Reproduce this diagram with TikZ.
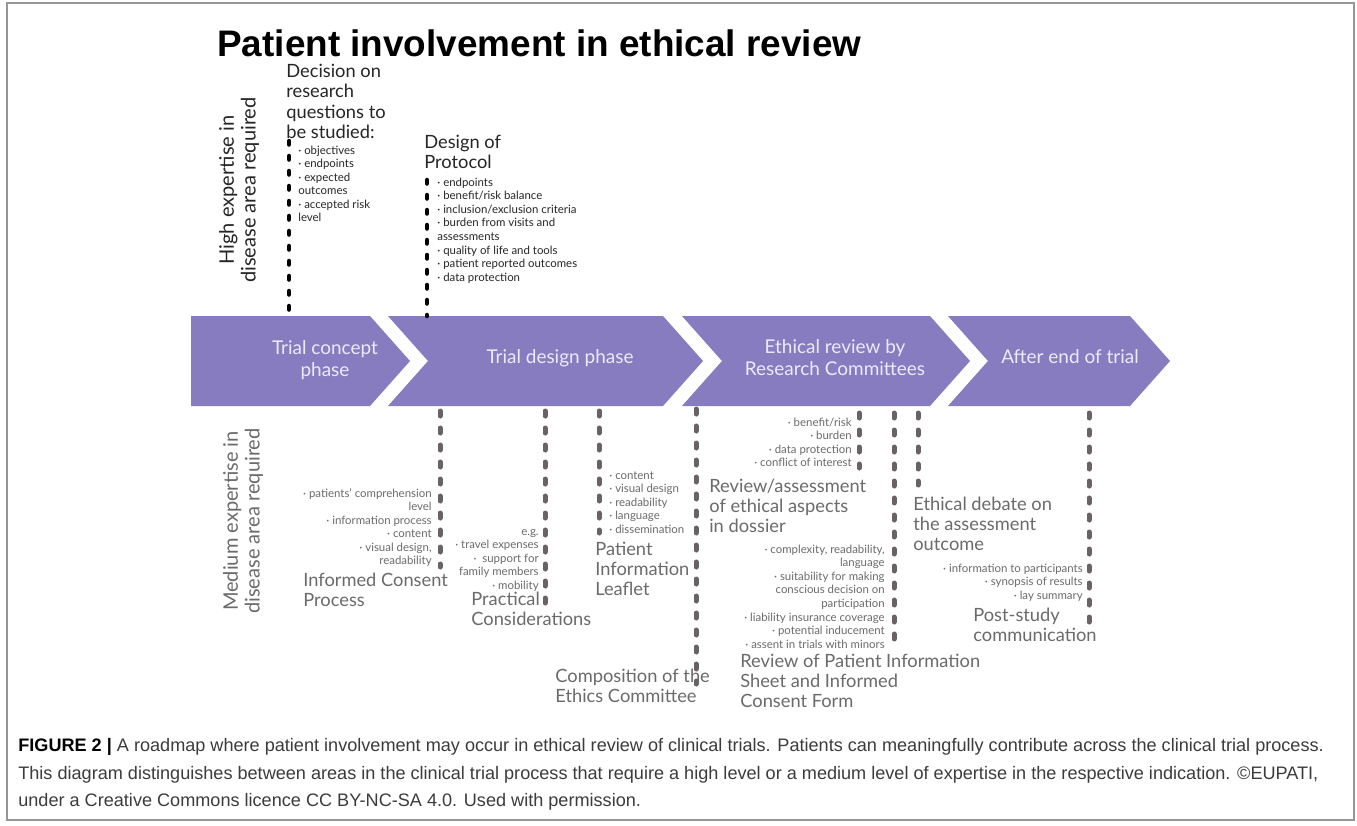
\documentclass[tikz,border=0pt]{standalone}
\usepackage{fontspec}
\setmainfont{Lato}
\newfontfamily\capfont{Liberation Sans}
\definecolor{chev}{RGB}{135,124,192}
\definecolor{chevtext}{RGB}{236,234,246}
\definecolor{greytext}{RGB}{108,106,106}
\definecolor{greydash}{RGB}{105,99,99}
\definecolor{captext}{RGB}{60,60,60}
\definecolor{framec}{RGB}{150,150,150}
\newcommand\fbig{\fontsize{10.4pt}{11.6pt}\selectfont}
\newcommand\fside{\fontsize{11.4pt}{12.4pt}\selectfont}
\newcommand\fsmall{\fontsize{6.5pt}{7.7pt}\selectfont}
\newcommand\fchev{\fontsize{10.8pt}{12.5pt}\selectfont}
\newcommand\ftitle{\fontsize{21pt}{24pt}\selectfont}
\newcommand\fcap{\fontsize{10.3pt}{12pt}\selectfont}
\tikzset{
  chevshape/.style={fill=chev, draw=none},
  chevlabel/.style={text=chevtext, font=\fchev, align=center, inner sep=0pt},
  headtext/.style={font=\fbig, inner sep=0pt, align=left, anchor=base west},
  bullL/.style={font=\fsmall, inner sep=0pt, align=left, anchor=base west},
  bullR/.style={font=\fsmall, inner sep=0pt, align=right, anchor=base east},
  greyt/.style={text=greytext},
  blackt/.style={text=black!85},
  topdash/.style={draw=black, line width=0.9mm, line cap=round, dash pattern=on 0.7mm off 2.3mm},
  botdash/.style={draw=greydash, line width=1mm, line cap=round, dash pattern=on 1mm off 2.4mm},
  sidelabel/.style={font=\fside, align=center, inner sep=0pt, rotate=90},
  capline/.style={font=\capfont\fcap, text=captext, inner sep=0pt, anchor=base west},
}
\begin{document}
\begin{tikzpicture}[x=0.2mm,y=-0.2mm]
\useasboundingbox (0,0) rectangle (1357,825);
\fill[white] (0,0) rectangle (1357,825);
\draw[framec, line width=0.25mm] (7,3) rectangle (1354,820);

% title
\node[font=\capfont\bfseries\ftitle, anchor=base west, inner sep=0pt] (title) at (217,56) {Patient involvement in ethical review};

% chevrons
\path[chevshape] (191,316) -- (370,316) -- (410,361) -- (370,406) -- (191,406) -- cycle;
\path[chevshape] (388,316) -- (663,316) -- (703,361) -- (663,406) -- (388,406) -- (428,361) -- cycle;
\path[chevshape] (682,316) -- (930,316) -- (970,361) -- (930,406) -- (682,406) -- (722,361) -- cycle;
\path[chevshape] (948,316) -- (1130,316) -- (1170,361) -- (1130,406) -- (948,406) -- (988,361) -- cycle;
\node[chevlabel] (c1) at (325,360) {Trial concept\\phase};
\node[chevlabel] (c2) at (560,358) {Trial design phase};
\node[chevlabel] (c3) at (835,358) {Ethical review by\\Research Committees};
\node[chevlabel] (c4) at (1070,357) {After end of trial};

% side labels
\node[sidelabel, blackt] (high) at (239,190) {High expertise in\\disease area required};
\node[sidelabel, greyt] (med) at (243,521) {Medium expertise in\\disease area required};

% upper: decision (anchor = baseline of last line)
\node[headtext, blackt] (dec) at (286,138.4) {Decision on\\research\\questions to\\be studied:};
\node[bullL, blackt] (decb) at (298,221.9) {· objectives\\· endpoints\\· expected\\outcomes\\· accepted risk\\level};
\coordinate (b1t) at (289,141);
\coordinate (b1b) at (289,316);
\draw[topdash] (b1t) -- (b1b);

% upper: design of protocol
\node[headtext, blackt] (dop) at (424,168.5) {Design of\\Protocol};
\node[bullL, blackt] (dopb) at (437,281.1) {· endpoints\\· benefit/risk balance\\· inclusion/exclusion criteria\\· burden from visits and\\assessments\\· quality of life and tools\\· patient reported outcomes\\· data protection};
\coordinate (b2t) at (427,180);
\coordinate (b2b) at (427,316);
\draw[topdash] (b2t) -- (b2b);

% lower: informed consent
\node[bullR, greyt] (icb) at (432,564.9) {· patients’ comprehension\\level\\· information process\\· content\\· visual design,\\readability};
\node[headtext, greyt] (ic) at (303,606.5) {Informed Consent\\Process};
\coordinate (g1t) at (440,411);
\coordinate (g1b) at (440,567);
\draw[botdash] (g1t) -- (g1b);

% practical
\node[bullR, greyt] (prb) at (539,589.3) {e.g.\\· travel expenses\\·\ \ support for\\family members\\· mobility};
\node[headtext, greyt] (pr) at (471,625.5) {Practical\\Considerations};
\coordinate (g2t) at (545,411);
\coordinate (g2b) at (545,605);
\draw[botdash] (g2t) -- (g2b);

% patient information leaflet
\node[bullL, greyt] (pilb) at (609,533.3) {· content\\· visual design\\· readability\\· language\\· dissemination};
\node[headtext, greyt] (pil) at (595,595.9) {Patient\\Information\\Leaflet};
\coordinate (g3t) at (599,411);
\coordinate (g3b) at (599,533);
\draw[botdash] (g3t) -- (g3b);

% composition
\node[headtext, greyt] (comp) at (555,702.5) {Composition of the\\Ethics Committee};
\coordinate (g4t) at (696,409);
\coordinate (g4b) at (696,684);
\draw[botdash] (g4t) -- (g4b);

% review/assessment
\node[bullR, greyt] (rab) at (852,466.7) {· benefit/risk\\· burden\\· data protection\\· conflict of interest};
\node[headtext, greyt] (ra) at (709,532.9) {Review/assessment\\of ethical aspects\\in dossier};
\coordinate (g5t) at (859,413);
\coordinate (g5b) at (859,468);
\draw[botdash] (g5t) -- (g5b);

% review of PIS
\node[bullR, greyt] (pisb) at (885,648.1) {· complexity, readability,\\language\\· suitability for making\\conscious decision on\\participation\\· liability insurance coverage\\· potential inducement\\· assent in trials with minors};
\node[headtext, greyt] (pis) at (740,707.9) {Review of Patient Information\\Sheet and Informed\\Consent Form};
\coordinate (g6t) at (894,413);
\coordinate (g6b) at (894,645);
\draw[botdash] (g6t) -- (g6b);

% ethical debate
\node[headtext, greyt] (ed) at (913,550.9) {Ethical debate on\\the assessment\\outcome};
\coordinate (g7t) at (918,413);
\coordinate (g7b) at (918,485);
\draw[botdash] (g7t) -- (g7b);

% post-study
\node[bullR, greyt] (psb) at (1083,599.2) {· information to participants\\· synopsis of results\\· lay summary};
\node[headtext, greyt] (ps) at (973,641.5) {Post-study\\communication};
\coordinate (g8t) at (1089,413);
\coordinate (g8b) at (1089,622);
\draw[botdash] (g8t) -- (g8b);

% caption
\node[capline] (cap1) at (18,751) {\textcolor{black}{\textbf{FIGURE 2 |}} A roadmap where patient involvement may occur in ethical review of clinical trials. Patients can meaningfully contribute across the clinical trial process.};
\node[capline] (cap2) at (18,779) {This diagram distinguishes between areas in the clinical trial process that require a high level or a medium level of expertise in the respective indication. ©EUPATI,};
\node[capline] (cap3) at (18,806) {under a Creative Commons licence CC BY-NC-SA 4.0. Used with permission.};
\end{tikzpicture}
\end{document}
